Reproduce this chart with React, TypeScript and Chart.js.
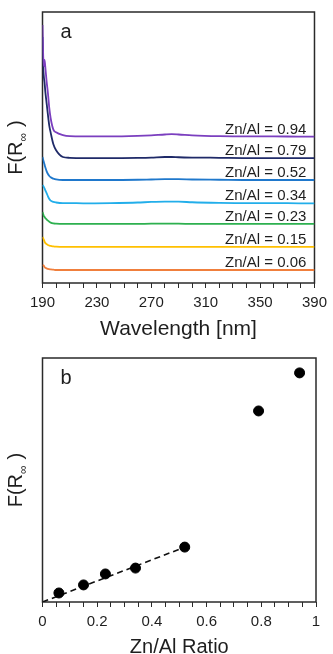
import React, { useEffect, useRef } from 'react';
import { Chart, registerables } from 'chart.js';

Chart.register(...registerables);

// ---- Panel a: Kubelka–Munk spectra (offset for clarity) ----
const wavelengths = [
  190, 190.5, 191, 191.5, 192, 193, 194, 195, 196, 198, 200, 205, 210, 220,
  240, 260, 270, 280, 285, 290, 300, 320, 340, 360, 380, 390,
];

const spec094 = [
  0.952, 0.84, 0.8, 0.823, 0.8, 0.745, 0.7, 0.645, 0.608, 0.566, 0.556, 0.546, 0.542, 0.541,
  0.541, 0.543, 0.545, 0.548, 0.549, 0.548, 0.545, 0.542, 0.541, 0.541, 0.54, 0.54,
];
const spec079 = [
  0.908, 0.8, 0.76, 0.74, 0.71, 0.665, 0.62, 0.58, 0.555, 0.512, 0.49, 0.465, 0.462, 0.461,
  0.461, 0.462, 0.463, 0.465, 0.465, 0.464, 0.463, 0.462, 0.461, 0.461, 0.461, 0.461,
];
const spec052 = [
  0.465, 0.455, 0.446, 0.437, 0.428, 0.413, 0.402, 0.395, 0.39, 0.385, 0.382, 0.38, 0.38, 0.38,
  0.38, 0.381, 0.382, 0.383, 0.383, 0.383, 0.382, 0.381, 0.38, 0.38, 0.38, 0.38,
];
const spec034 = [
  0.362, 0.358, 0.354, 0.349, 0.343, 0.332, 0.32, 0.31, 0.304, 0.299, 0.297, 0.295, 0.295, 0.294,
  0.295, 0.297, 0.299, 0.3, 0.3, 0.3, 0.298, 0.296, 0.295, 0.295, 0.294, 0.294,
];
const spec023 = [
  0.262, 0.254, 0.247, 0.244, 0.24, 0.235, 0.23, 0.226, 0.223, 0.22, 0.219, 0.218, 0.218, 0.218,
  0.218, 0.218, 0.219, 0.219, 0.219, 0.219, 0.218, 0.218, 0.218, 0.218, 0.218, 0.218,
];
const spec015 = [
  0.17, 0.165, 0.159, 0.153, 0.148, 0.144, 0.14, 0.138, 0.137, 0.135, 0.134, 0.133, 0.133, 0.133,
  0.133, 0.133, 0.133, 0.133, 0.133, 0.133, 0.133, 0.133, 0.133, 0.133, 0.133, 0.133,
];
const spec006 = [
  0.066, 0.065, 0.063, 0.059, 0.056, 0.054, 0.052, 0.051, 0.05, 0.049, 0.048, 0.048, 0.048, 0.048,
  0.048, 0.048, 0.048, 0.048, 0.048, 0.048, 0.048, 0.048, 0.048, 0.048, 0.048, 0.048,
];

const spectraRatios = ['0.94', '0.79', '0.52', '0.34', '0.23', '0.15', '0.06'];
const spectra = [spec094, spec079, spec052, spec034, spec023, spec015, spec006];
const spectraColors = ['#7B3FBF', '#1F2A68', '#1F78CC', '#22AEEA', '#2DB04F', '#FFC000', '#F07F3C'];

const wavelengthMajor = [190, 230, 270, 310, 350, 390];

// ---- Panel b: F(R∞) vs Zn/Al ratio ----
const znAlRatio = [0.06, 0.15, 0.23, 0.34, 0.52, 0.79, 0.94];
const fRInf = [0.037, 0.07, 0.115, 0.139, 0.225, 0.783, 0.939];
const fitX = [0, 0.53];
const fitY = [0, 0.229];
const ratioMajor = [0, 0.2, 0.4, 0.6, 0.8, 1];

const FONT = '"Liberation Sans", Arial, sans-serif';
const INK = '#1e1e1e';
const FRAME = '#2a2a2a';

function framePlugin(letter: string, xTitle: string, xTitleSize: number, xTitleBaseline: number) {
  return {
    id: 'frame-' + letter,
    // box goes under the curves so the steep edge at the left stays visible
    beforeDatasetsDraw(chart: any) {
      const { ctx, chartArea } = chart;
      const { left, right, top, bottom } = chartArea;
      ctx.save();
      ctx.strokeStyle = FRAME;
      ctx.lineWidth = 1.5;
      ctx.strokeRect(left, top, right - left, bottom - top);
      ctx.restore();
    },
    afterDraw(chart: any) {
      const { ctx, chartArea } = chart;
      const { left, right, top, bottom } = chartArea;
      ctx.save();
      ctx.fillStyle = INK;
      // panel letter
      ctx.font = `20px ${FONT}`;
      ctx.textAlign = 'left';
      ctx.textBaseline = 'alphabetic';
      ctx.fillText(letter, left + 18, top + 26);

      // x title
      ctx.font = `${xTitleSize}px ${FONT}`;
      ctx.textAlign = 'center';
      ctx.fillText(xTitle, (left + right) / 2, xTitleBaseline);

      // y title: F(R∞) with subscript, rotated
      const cy = (top + bottom) / 2;
      ctx.translate(22, cy);
      ctx.rotate(-Math.PI / 2);
      ctx.textAlign = 'left';
      const big = `20px ${FONT}`;
      const small = `12px ${FONT}`;
      ctx.font = big;
      const w1 = ctx.measureText('F(R').width;
      const w3 = ctx.measureText(')').width;
      ctx.font = small;
      const w2 = ctx.measureText('∞').width;
      const gap = 6;
      const total = w1 + w2 + gap + w3;
      let x = -total / 2;
      ctx.font = big;
      ctx.fillText('F(R', x, 0);
      x += w1;
      ctx.font = small;
      ctx.fillText('∞', x, 5);
      x += w2 + gap;
      ctx.font = big;
      ctx.fillText(')', x, 0);
      ctx.restore();
    },
  };
}

const spectraLabels = {
  id: 'spectra-labels',
  afterDraw(chart: any) {
    const { ctx, scales } = chart;
    ctx.save();
    ctx.font = `15px ${FONT}`;
    ctx.fillStyle = INK;
    ctx.textAlign = 'right';
    ctx.textBaseline = 'alphabetic';
    spectra.forEach((s, i) => {
      const y = scales.y.getPixelForValue(s[s.length - 1]) - 3;
      const x = scales.x.getPixelForValue(384);
      ctx.fillText(`Zn/Al = ${spectraRatios[i]}`, x, y);
    });
    ctx.restore();
  },
};

const tickFont = { family: FONT, size: 15 };

export default function App() {
  const topRef = useRef<HTMLCanvasElement>(null);
  const botRef = useRef<HTMLCanvasElement>(null);

  useEffect(() => {
    document.body.style.margin = '0';

    const top = new Chart(topRef.current!, {
      type: 'line',
      data: {
        datasets: spectra.map((s, i) => ({
          label: `Zn/Al = ${spectraRatios[i]}`,
          data: wavelengths.map((w, j) => ({ x: w, y: s[j] })),
          borderColor: spectraColors[i],
          borderWidth: 1.8,
          pointRadius: 0,
          cubicInterpolationMode: 'monotone' as const,
          fill: false,
        })),
      },
      options: {
        responsive: false,
        animation: false,
        layout: { padding: { top: 12, right: 17, left: 0, bottom: 0 } },
        plugins: { legend: { display: false }, tooltip: { enabled: false } },
        scales: {
          x: {
            type: 'linear',
            min: 190,
            max: 390,
            afterFit: (s: any) => {
              s.height = 62;
            },
            ticks: {
              stepSize: 10,
              autoSkip: false,
              maxRotation: 0,
              padding: 6,
              color: INK,
              font: tickFont,
              callback: (v: any) => (wavelengthMajor.includes(Math.round(Number(v))) ? String(Math.round(Number(v))) : ''),
            },
            grid: { drawOnChartArea: false, drawTicks: true, tickLength: 5, tickColor: FRAME, tickWidth: 1 },
            border: { display: false },
          },
          y: {
            type: 'linear',
            min: 0,
            max: 1,
            afterFit: (s: any) => {
              s.width = 42.5;
            },
            ticks: { display: false },
            grid: { display: false },
            border: { display: false },
          },
        },
      },
      plugins: [framePlugin('a', 'Wavelength [nm]', 21, 335), spectraLabels],
    } as any);

    const bot = new Chart(botRef.current!, {
      type: 'scatter',
      data: {
        datasets: [
          {
            label: 'F(R∞)',
            data: znAlRatio.map((r, i) => ({ x: r, y: fRInf[i] })),
            backgroundColor: '#000000',
            borderColor: '#000000',
            pointRadius: 5,
            showLine: false,
          },
          {
            label: 'fit',
            data: fitX.map((x, i) => ({ x, y: fitY[i] })),
            borderColor: '#111111',
            borderWidth: 1.6,
            borderDash: [6, 4],
            pointRadius: 0,
            showLine: true,
          },
        ],
      },
      options: {
        responsive: false,
        animation: false,
        layout: { padding: { top: 13, right: 17, left: 0, bottom: 0 } },
        plugins: { legend: { display: false }, tooltip: { enabled: false } },
        scales: {
          x: {
            type: 'linear',
            min: 0,
            max: 1,
            afterFit: (s: any) => {
              s.height = 52;
            },
            ticks: {
              stepSize: 0.05,
              autoSkip: false,
              maxRotation: 0,
              padding: 6,
              color: INK,
              font: tickFont,
              callback: (v: any) => {
                const n = Math.round(Number(v) * 100) / 100;
                return ratioMajor.includes(n) ? String(n) : '';
              },
            },
            grid: { drawOnChartArea: false, drawTicks: true, tickLength: 5, tickColor: FRAME, tickWidth: 1 },
            border: { display: false },
          },
          y: {
            type: 'linear',
            min: 0,
            max: 1,
            afterFit: (s: any) => {
              s.width = 42.5;
            },
            ticks: { display: false },
            grid: { display: false },
            border: { display: false },
          },
        },
      },
      plugins: [framePlugin('b', 'Zn/Al Ratio', 20, 308)],
    } as any);

    return () => {
      top.destroy();
      bot.destroy();
    };
  }, []);

  return (
    <div style={{ position: 'relative', width: 333, height: 654, background: '#fff' }}>
      <canvas ref={topRef} width={333} height={345} style={{ position: 'absolute', left: 0, top: 0 }} />
      <canvas ref={botRef} width={333} height={309} style={{ position: 'absolute', left: 0, top: 345 }} />
    </div>
  );
}
